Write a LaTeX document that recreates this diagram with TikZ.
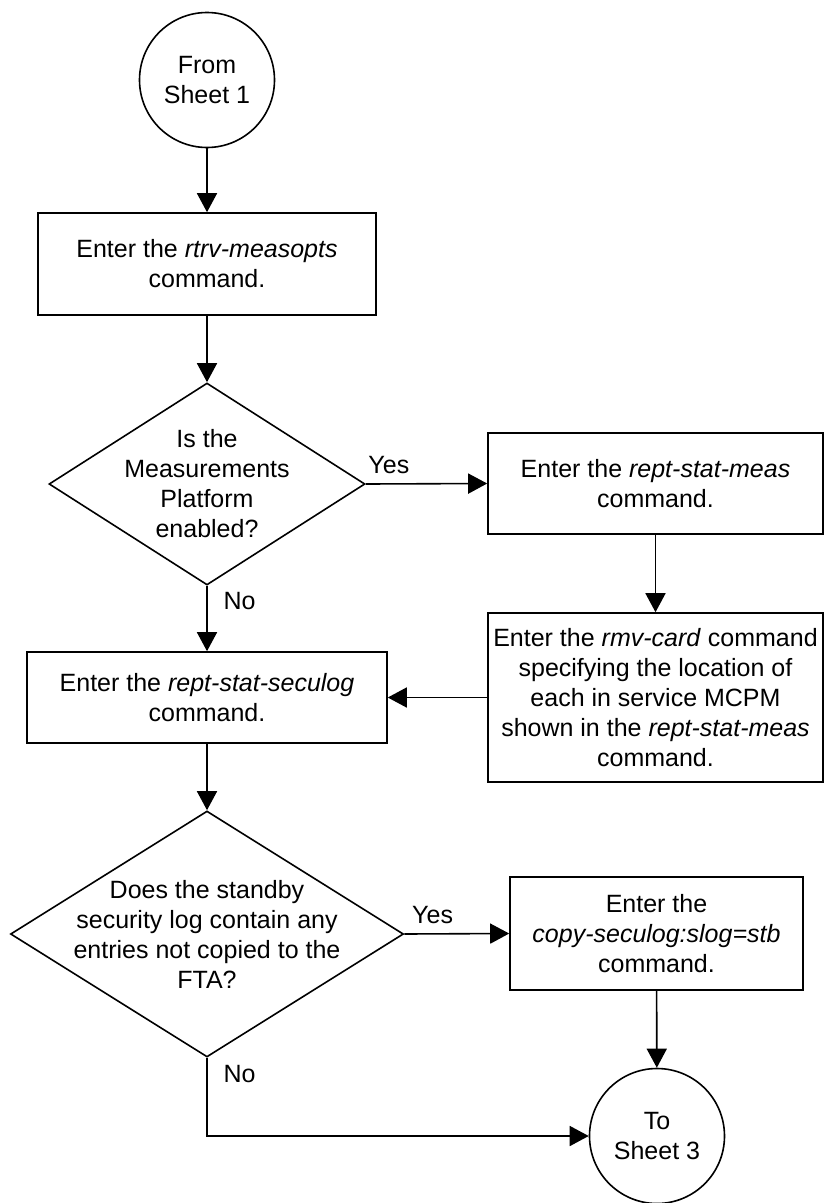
\documentclass[tikz,border=0pt]{standalone}
\usepackage{fontspec}
\setmainfont{Liberation Sans}
\usetikzlibrary{shapes.geometric,arrows.meta}

\tikzset{
  flowline/.style={line width=1.6pt},
  flowarrow/.style={flowline, -{Triangle[length=19pt,width=20pt]}},
  cmdbox/.style={draw, flowline, rectangle, align=center, inner sep=2pt},
  sheet/.style={draw, flowline, circle, minimum size=135pt, align=center},
  decision/.style={draw, flowline, diamond, inner sep=0pt},
  answer/.style={anchor=base west, xshift=12.5pt}
}

\begin{document}
\begin{tikzpicture}[x=1pt,y=-1pt]
    \useasboundingbox (0,0) rectangle (825,1203);
    \begin{scope}[font=\fontsize{25}{30}\selectfont]
      \node [sheet] (fromsheet) at (207,80) {From\\Sheet 1};
      \node [cmdbox, minimum width=338pt, minimum height=102pt] (measopts) at (207,264)
        {Enter the \textit{rtrv-measopts}\\command.};

      \node [decision, minimum width=316pt, minimum height=202pt] (meason) at (207,484) {};
      \node [align=center] (measontext) at (meason.center)
        {Is the\\Measurements\\Platform\\enabled?};

      \node [cmdbox, minimum width=335pt, minimum height=101pt] (statmeas) at (655.5,483.5)
        {Enter the \textit{rept-stat-meas}\\command.};
      \node [cmdbox, minimum width=335pt, minimum height=169pt] (rmvcard) at (655.5,697.5)
        {Enter the \textit{rmv-card} command\\specifying the location of\\each in service MCPM\\shown in the \textit{rept-stat-meas}\\command.};

      \node [cmdbox, minimum width=360pt, minimum height=91pt] (seculog) at (207,697.5)
        {Enter the \textit{rept-stat-seculog}\\command.};

      \node [decision, minimum width=393pt, minimum height=246pt] (standby) at (207,934) {};
      \node [align=center] (standbytext) at (standby.center)
        {Does the standby\\security log contain any\\entries not copied to the\\FTA?};

      \node [cmdbox, minimum width=293pt, minimum height=113pt] (copylog) at (656.5,933.5)
        {Enter the\\\textit{copy-seculog:slog=stb}\\command.};
      \node [sheet] (tosheet) at (657,1136) {To\\Sheet 3};

      \draw [flowarrow] (fromsheet) -- (measopts);
      \draw [flowarrow] (measopts) -- (meason);
      \draw [flowarrow] (meason.east) -- (statmeas.west)
        node [pos=0.19, anchor=base, yshift=10pt] (yesone) {Yes};
      \draw [flowarrow] (statmeas) -- (rmvcard);
      \draw [flowarrow] (meason.south) -- (seculog.north)
        node [pos=0.36, answer] (noone) {No};
      \draw [flowarrow] (rmvcard.west) -- (seculog.east);
      \draw [flowarrow] (seculog) -- (standby);
      \draw [flowarrow] (standby.east) -- (copylog.west)
        node [pos=0.27, anchor=base, yshift=10pt] (yestwo) {Yes};
      \draw [flowarrow] (copylog) -- (tosheet);
      \draw [flowarrow] (standby.south) |- (tosheet.west)
        node [pos=0.16, answer] (notwo) {No};
    \end{scope}
\end{tikzpicture}
\end{document}
